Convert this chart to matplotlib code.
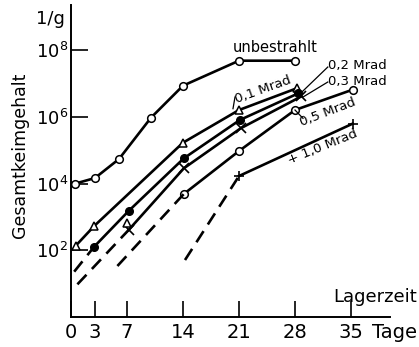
import numpy as np
import matplotlib
matplotlib.use("Agg")
import matplotlib.pyplot as plt

# ---------------- data (days, log10 of germ count per g) ----------------
unb_days = [0.5, 3, 6, 10, 14, 21, 28]
unb_log = [4.0, 4.17, 4.74, 5.98, 6.94, 7.69, 7.69]

m01_days = [0.6, 2.9, 14, 21, 28.2]
m01_log = [2.14, 2.73, 5.23, 6.21, 6.86]

m02_days = [2.9, 7.2, 14.1, 21.1, 28.4]
m02_log = [2.11, 3.18, 4.76, 5.91, 6.71]
m02_dash_days = [0.4, 2.9]
m02_dash_log = [1.36, 2.11]

m03_days = [7.2, 14.1, 21.2, 28.8]
m03_log = [2.61, 4.46, 5.66, 6.62]
m03_dash_days = [0.8, 7.2]
m03_dash_log = [0.98, 2.61]

m05_days = [14.1, 21, 28, 35.2]
m05_log = [3.69, 4.98, 6.21, 6.82]
m05_dash_days = [5.8, 14.1]
m05_dash_log = [1.53, 3.69]

m10_days = [21, 35.2]
m10_log = [4.23, 5.80]
m10_dash_days = [14.25, 21]
m10_dash_log = [1.71, 4.23]

extra_tri_day = [7.0]
extra_tri_log = [2.83]

x_ticks = [0, 3, 7, 14, 21, 28, 35]
y_ticks = [2, 4, 6, 8]

W, H = 419, 347
fig = plt.figure(figsize=(W / 100, H / 100), dpi=100)
ax = fig.add_axes([71 / W, 1 - 317 / H, (390 - 71) / W, (317 - 5) / H])

lw = 1.9
ms = 5.5
k = "black"

def pw(v):
    return [10 ** x for x in v]

ax.set_yscale("log")
ax.set_xlim(0, (390 - 71) / 8)
ax.set_ylim(1, 10 ** ((317 - 5) / 33.33))

# solid series
ax.plot(unb_days, pw(unb_log), "-", color=k, lw=lw, marker="o", ms=ms, mfc="white", mec=k, mew=1.1)
ax.plot(m01_days, pw(m01_log), "-", color=k, lw=lw, marker="^", ms=ms, mfc="white", mec=k, mew=1.1)
ax.plot(m02_days, pw(m02_log), "-", color=k, lw=lw, marker="o", ms=ms, mfc=k, mec=k)
ax.plot(m03_days, pw(m03_log), "-", color=k, lw=lw, marker="x", ms=ms + 1, mec=k, mew=1.2)
ax.plot(m05_days, pw(m05_log), "-", color=k, lw=lw, marker="o", ms=ms, mfc="white", mec=k, mew=1.1)
ax.plot(m10_days, pw(m10_log), "-", color=k, lw=lw, marker="+", ms=ms + 2, mec=k, mew=1.2)
ax.plot(extra_tri_day, pw(extra_tri_log), ls="none", marker="^", ms=ms, mfc="white", mec=k, mew=1.1)

# dashed extrapolations
dash = (0, (5, 3))
for d, v in [(m02_dash_days, m02_dash_log), (m03_dash_days, m03_dash_log),
             (m05_dash_days, m05_dash_log), (m10_dash_days, m10_dash_log)]:
    ax.plot(d, pw(v), color=k, lw=lw, linestyle=dash)

# axes styling
for s in ["top", "right"]:
    ax.spines[s].set_visible(False)
for s in ["left", "bottom"]:
    ax.spines[s].set_linewidth(1.4)

ax.set_xticks(x_ticks)
ax.set_xticklabels([str(t) for t in x_ticks])
ax.set_yticks([10 ** t for t in y_ticks])
ax.set_yticklabels([f"$10^{{{t}}}$" for t in y_ticks])
ax.yaxis.set_minor_locator(matplotlib.ticker.NullLocator())
ax.tick_params(axis="x", direction="in", length=11.5, width=1.2, labelsize=14, pad=4)
ax.tick_params(axis="y", direction="in", length=12, width=1.2, labelsize=13, pad=2)

# annotations
def P(day, lg):
    return (day, 10 ** lg)

ax.text(*P(25.5, 8.1), "unbestrahlt", fontsize=10.5, ha="center", va="center")
ax.text(*P(32.1, 7.56), "0,2 Mrad", fontsize=9.5, ha="left", va="center")
ax.text(*P(32.1, 7.08), "0,3 Mrad", fontsize=9.5, ha="left", va="center")
ax.plot(*zip(P(28.6, 6.69), P(32.1, 7.5)), color=k, lw=0.9)
ax.plot(*zip(P(29.0, 6.6), P(32.1, 7.05)), color=k, lw=0.9)
ax.text(*P(24.0, 6.81), "0,1 Mrad", fontsize=9.5, ha="center", va="center", rotation=20,
        rotation_mode="anchor")
ax.plot(*zip(P(20.5, 6.6), P(20.25, 6.25)), color=k, lw=0.9)
ax.text(*P(32.1, 6.15), "0,5 Mrad", fontsize=9.5, ha="center", va="center", rotation=21,
        rotation_mode="anchor")
ax.plot(*zip(P(28.0, 6.21), P(29.0, 5.96)), color=k, lw=0.9)
ax.text(*P(31.5, 5.1), "+ 1,0 Mrad", fontsize=9.5, ha="center", va="center", rotation=22,
        rotation_mode="anchor")

fig.text(20 / W, 1 - 155 / H, "Gesamtkeimgehalt", rotation=90, fontsize=12.5,
         ha="center", va="center")
fig.text(50 / W, 1 - 19 / H, "1/g", fontsize=13, ha="center", va="center")
fig.text(417 / W, 1 - 297 / H, "Lagerzeit", fontsize=13, ha="right", va="center")
fig.text(417 / W, 1 - 333 / H, "Tage", fontsize=14, ha="right", va="center")

fig.savefig("out.png", dpi=100)
